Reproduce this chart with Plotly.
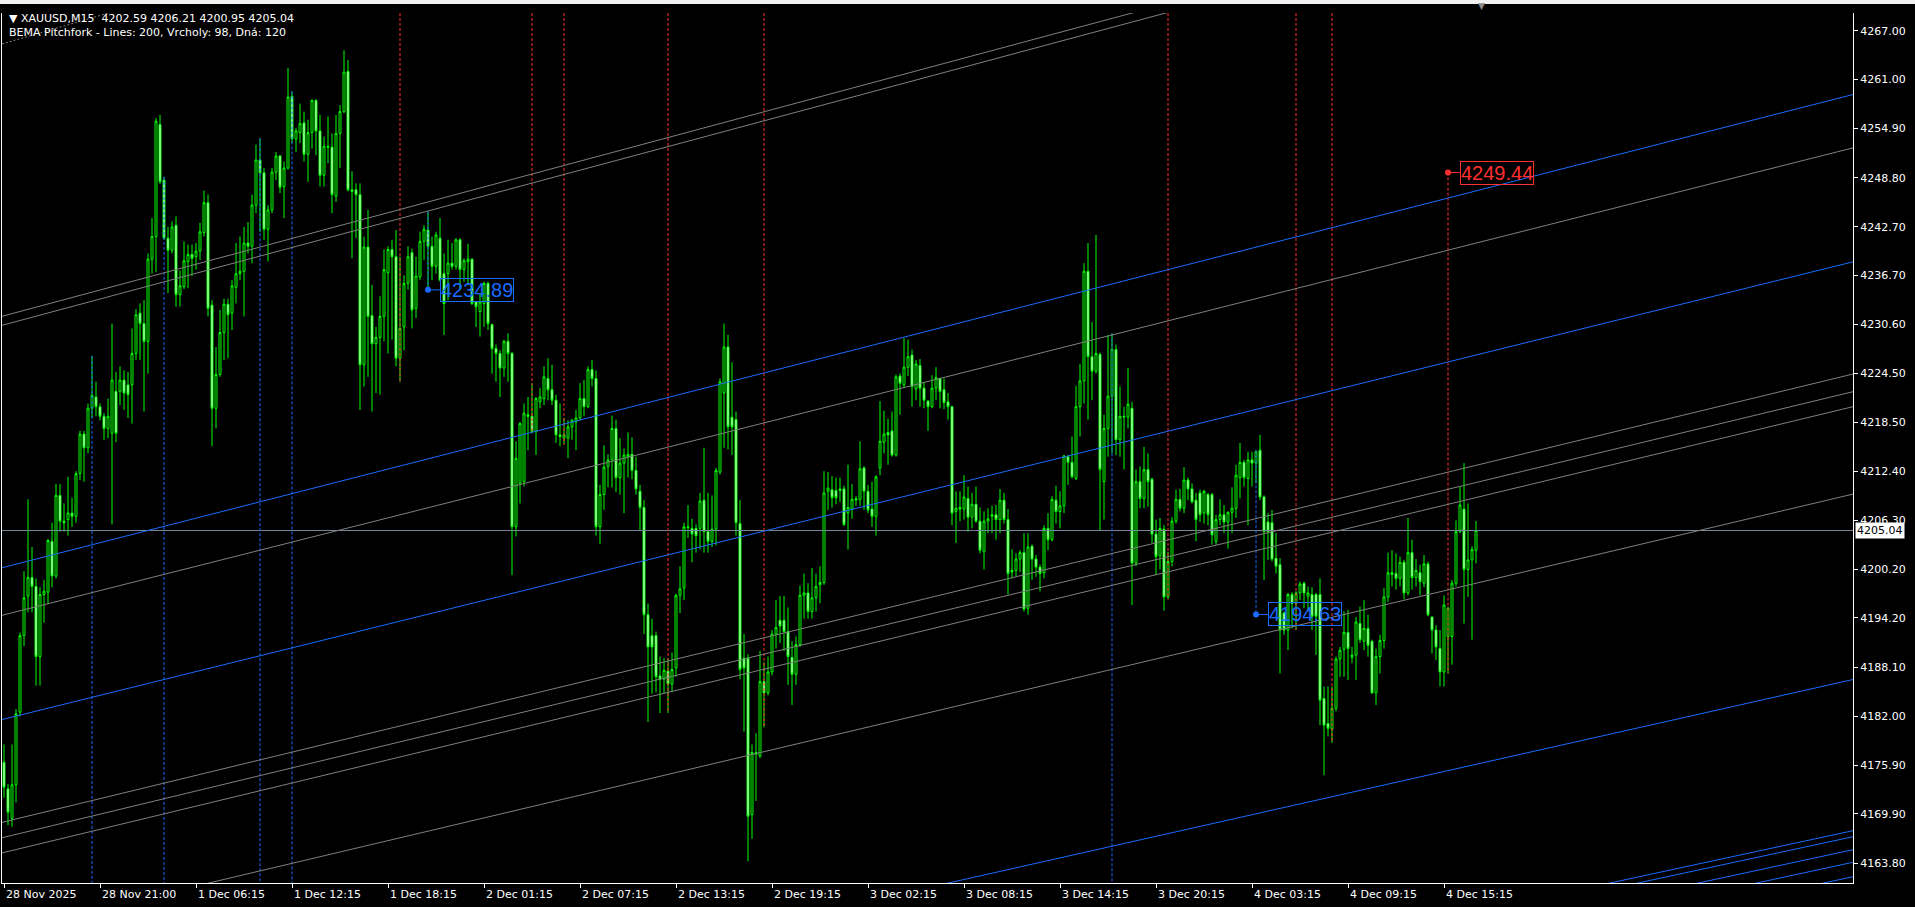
import plotly.graph_objects as go

# ---------------- data ----------------
open_ = [4176.3,4173.0,4169.3,4173.5,4182.5,4192.0,4196.9,4199.2,4198.1,4189.4,
 4197.1,4197.4,4203.7,4199.4,4209.4,4206.2,4206.4,4207.2,4206.8,4212.1,
 4217.0,4215.3,4220.2,4221.6,4220.4,4219.2,4217.7,4217.1,4222.3,4222.3,
 4223.7,4223.1,4223.1,4227.0,4232.0,4230.7,4228.5,4238.7,4241.5,4255.4,
 4248.5,4241.3,4239.8,4242.9,4234.3,4235.3,4238.4,4239.3,4239.0,4239.7,
 4242.0,4245.7,4233.0,4220.2,4224.4,4229.6,4233.1,4232.0,4235.2,4236.9,
 4237.2,4240.7,4240.3,4245.4,4251.0,4249.4,4242.4,4244.8,4249.5,4251.5,
 4247.7,4250.0,4258.9,4253.6,4254.4,4255.6,4251.7,4254.4,4258.4,4254.6,
 4249.1,4252.7,4252.6,4246.5,4254.3,4257.0,4262.0,4247.3,4247.3,4246.7,
 4225.6,4240.2,4231.7,4228.2,4229.0,4231.6,4237.0,4239.9,4239.0,4226.4,
 4230.3,4235.7,4239.5,4232.6,4236.5,4240.9,4242.3,4240.3,4237.8,4241.3,
 4236.9,4236.9,4238.2,4237.8,4241.1,4237.4,4238.4,4238.7,4233.4,4232.2,
 4233.2,4235.7,4230.6,4227.6,4227.0,4225.2,4228.5,4227.0,4205.5,4210.9,
 4211.1,4219.4,4219.2,4217.3,4221.0,4221.4,4223.9,4222.5,4221.2,4216.9,
 4216.5,4216.5,4217.9,4218.5,4219.0,4221.4,4220.4,4225.0,4223.9,4205.5,
 4209.5,4213.0,4213.8,4217.7,4211.6,4213.4,4214.2,4214.5,4212.5,4209.9,
 4207.9,4194.6,4192.0,4192.0,4187.0,4186.6,4187.6,4186.0,4188.0,4197.0,
 4197.9,4205.4,4205.3,4205.3,4205.3,4208.8,4204.9,4203.7,4205.2,4212.3,
 4222.1,4227.8,4219.1,4218.8,4205.9,4189.2,4189.2,4169.8,4177.3,4177.1,
 4186.3,4184.9,4187.5,4192.2,4193.9,4193.9,4192.5,4189.3,4187.2,4190.9,
 4197.0,4197.3,4195.0,4196.7,4198.3,4198.6,4209.9,4210.1,4210.0,4210.0,
 4210.2,4207.2,4207.7,4208.8,4208.9,4212.8,4209.9,4207.7,4206.8,4212.8,
 4216.0,4217.2,4217.4,4214.4,4224.2,4223.1,4225.3,4226.8,4222.6,4225.5,
 4222.7,4221.1,4220.4,4222.7,4223.9,4222.5,4221.0,4220.4,4207.4,4207.9,
 4207.7,4209.0,4206.7,4208.3,4206.2,4202.4,4206.2,4206.8,4207.0,4206.4,
 4208.8,4206.4,4200.1,4200.1,4201.5,4202.3,4195.4,4203.1,4201.5,4200.5,
 4199.8,4205.3,4203.9,4208.8,4207.4,4208.1,4214.2,4213.5,4211.5,4220.4,
 4223.6,4237.2,4226.6,4224.8,4226.9,4211.1,4217.7,4221.7,4227.5,4216.3,
 4219.1,4219.1,4220.2,4201.0,4211.1,4209.0,4212.6,4211.4,4204.6,4201.9,
 4205.2,4196.8,4201.2,4206.2,4208.9,4207.8,4211.3,4210.2,4208.8,4209.7,
 4207.2,4209.5,4209.5,4203.7,4206.4,4207.0,4206.1,4207.3,4207.8,4211.6,
 4213.5,4211.5,4213.8,4213.4,4215.0,4209.2,4206.1,4206.0,4201.6,4200.8,
 4194.8,4192.7,4197.1,4196.0,4197.3,4198.5,4196.9,4197.1,4197.1,4197.1,
 4184.2,4181.1,4180.4,4183.0,4189.1,4190.3,4192.4,4189.3,4189.6,4193.5,
 4191.3,4192.9,4191.3,4184.9,4189.4,4191.4,4196.8,4199.8,4199.7,4199.1,
 4201.1,4197.3,4202.3,4199.2,4199.8,4198.5,4200.9,4194.3,4192.7,4190.4,
 4187.5,4191.9,4191.9,4198.5,4204.9,4207.7,4200.2,4201.4,4202.59]

high = [4178.5,4173.6,4178.5,4182.9,4192.4,4200.0,4208.9,4203.0,4199.1,4198.0,
 4198.9,4204.0,4206.0,4210.8,4210.8,4208.4,4211.7,4209.1,4212.4,4217.4,
 4217.4,4220.8,4226.7,4223.5,4220.8,4219.6,4221.4,4230.7,4224.7,4225.4,
 4224.9,4224.7,4230.1,4232.5,4233.2,4233.6,4239.4,4243.8,4256.2,4256.6,
 4248.9,4242.7,4243.4,4244.0,4237.3,4240.9,4240.5,4240.5,4240.7,4243.2,
 4247.2,4246.7,4233.6,4227.8,4232.4,4233.8,4233.8,4236.1,4240.7,4241.5,
 4242.7,4243.3,4246.7,4252.9,4253.7,4250.0,4245.4,4250.0,4252.0,4251.6,
 4250.8,4262.4,4259.5,4255.0,4258.0,4257.0,4256.0,4258.5,4258.5,4256.6,
 4253.9,4256.4,4254.3,4256.6,4257.8,4264.6,4263.4,4249.6,4248.1,4248.1,
 4241.5,4244.8,4235.5,4230.3,4234.1,4239.9,4240.3,4241.1,4242.3,4239.0,
 4236.7,4240.3,4240.0,4239.0,4242.1,4242.9,4244.6,4241.5,4242.1,4243.8,
 4239.4,4241.1,4240.7,4241.3,4241.3,4238.8,4240.6,4238.8,4233.5,4234.5,
 4235.9,4235.9,4230.7,4228.1,4227.4,4228.7,4229.5,4227.2,4216.1,4218.5,
 4220.8,4221.6,4223.3,4221.6,4222.7,4225.4,4226.4,4225.6,4221.9,4220.8,
 4219.0,4218.7,4218.9,4220.0,4223.3,4223.7,4225.4,4226.2,4224.9,4210.7,
 4215.6,4214.5,4219.3,4218.8,4216.5,4215.2,4217.2,4216.6,4214.2,4210.7,
 4208.8,4196.0,4194.1,4192.5,4189.4,4189.2,4189.2,4189.9,4197.2,4200.6,
 4206.0,4208.2,4206.5,4205.8,4209.7,4215.3,4209.7,4209.4,4212.8,4223.9,
 4230.7,4229.3,4225.9,4219.8,4208.8,4192.2,4189.7,4178.5,4179.9,4190.1,
 4188.7,4189.4,4192.7,4196.4,4196.9,4196.9,4195.5,4191.3,4191.9,4198.2,
 4199.7,4198.5,4200.4,4199.7,4200.6,4212.4,4212.3,4211.8,4211.6,4211.6,
 4210.6,4213.2,4210.8,4209.3,4216.1,4213.0,4210.7,4211.1,4211.9,4221.1,
 4219.9,4218.9,4219.8,4224.4,4224.5,4228.9,4228.7,4227.5,4226.2,4226.3,
 4223.5,4221.2,4224.3,4225.3,4224.0,4223.9,4222.1,4220.5,4209.9,4209.9,
 4211.9,4210.5,4209.7,4210.5,4207.9,4207.4,4207.8,4208.1,4208.2,4210.2,
 4209.7,4207.7,4202.7,4202.2,4202.6,4204.7,4204.7,4203.3,4202.0,4200.8,
 4205.7,4207.2,4209.3,4210.6,4209.9,4214.4,4214.4,4216.7,4223.0,4225.7,
 4238.2,4240.7,4230.9,4241.7,4227.1,4219.4,4229.3,4229.5,4228.1,4222.9,
 4220.4,4225.2,4221.0,4212.6,4213.0,4215.4,4214.6,4211.6,4206.4,4206.6,
 4205.7,4202.4,4206.7,4210.1,4210.2,4212.9,4211.6,4210.9,4209.7,4210.1,
 4210.1,4209.7,4209.7,4207.0,4208.9,4208.2,4207.4,4210.4,4213.2,4215.9,
 4213.8,4214.8,4214.8,4215.0,4216.9,4209.4,4207.2,4207.6,4204.7,4201.6,
 4195.0,4197.3,4197.4,4197.5,4198.7,4198.7,4198.1,4198.0,4197.3,4199.1,
 4185.7,4185.7,4185.7,4189.4,4190.6,4195.0,4195.2,4190.6,4194.3,4195.6,
 4196.4,4194.6,4191.5,4190.4,4192.1,4197.9,4202.3,4202.6,4202.2,4201.8,
 4201.4,4206.6,4203.9,4201.5,4200.8,4202.0,4201.2,4194.4,4193.3,4192.7,
 4197.0,4195.6,4198.9,4206.3,4210.5,4213.4,4208.4,4203.1,4206.21]

low = [4171.9,4168.5,4168.3,4171.3,4182.0,4190.7,4194.9,4194.9,4185.8,4185.8,
 4193.6,4196.0,4198.0,4199.1,4204.9,4204.9,4204.4,4205.5,4206.0,4211.3,
 4211.1,4214.6,4219.0,4219.2,4218.7,4216.3,4216.5,4205.8,4216.0,4220.6,
 4220.0,4219.0,4218.3,4226.2,4226.2,4219.8,4224.5,4236.9,4237.1,4248.0,
 4241.1,4234.5,4239.4,4232.8,4232.8,4235.0,4235.1,4236.6,4237.4,4238.6,
 4241.5,4231.6,4215.5,4217.7,4224.1,4226.2,4226.4,4229.9,4233.2,4236.1,
 4231.6,4239.4,4238.2,4244.4,4242.1,4241.1,4238.4,4244.4,4248.5,4246.9,
 4243.8,4249.8,4253.1,4252.0,4253.1,4250.8,4248.3,4252.4,4251.6,4247.7,
 4247.7,4250.6,4244.4,4245.8,4250.0,4256.8,4247.1,4238.8,4241.3,4220.0,
 4222.9,4224.1,4219.8,4222.1,4221.9,4228.5,4227.0,4228.7,4225.4,4223.5,
 4227.4,4234.9,4230.1,4231.4,4236.1,4238.6,4235.1,4236.1,4236.9,4235.9,
 4229.3,4233.6,4237.4,4237.4,4234.9,4235.9,4235.5,4233.0,4230.3,4229.1,
 4230.3,4229.9,4224.5,4223.5,4221.6,4224.1,4223.5,4199.5,4204.3,4208.4,
 4210.5,4215.0,4217.1,4214.4,4220.2,4220.6,4221.2,4220.6,4215.9,4215.5,
 4215.7,4214.0,4216.3,4215.0,4218.7,4219.2,4220.2,4222.9,4204.4,4203.4,
 4207.6,4210.4,4210.4,4209.8,4209.5,4207.2,4211.6,4211.4,4209.5,4205.1,
 4192.2,4181.3,4184.8,4185.0,4182.4,4184.8,4182.4,4185.0,4186.9,4194.8,
 4196.4,4204.1,4201.1,4202.3,4202.7,4202.3,4202.3,4203.0,4203.2,4212.0,
 4215.3,4215.1,4214.4,4204.4,4186.6,4180.1,4164.0,4166.8,4171.5,4176.8,
 4180.6,4184.6,4187.1,4190.4,4191.1,4190.1,4185.9,4183.4,4185.9,4190.6,
 4194.1,4194.1,4194.1,4195.0,4196.0,4198.3,4207.6,4207.9,4208.3,4208.6,
 4205.6,4202.7,4206.5,4208.1,4208.1,4207.6,4207.2,4205.5,4204.4,4211.9,
 4214.6,4213.2,4214.2,4214.2,4219.4,4222.7,4224.2,4220.4,4221.2,4220.4,
 4220.2,4217.4,4220.2,4221.2,4220.2,4220.1,4218.8,4205.7,4203.5,4206.2,
 4206.4,4204.9,4205.3,4206.0,4202.2,4200.2,4204.7,4204.7,4203.9,4204.7,
 4205.9,4197.1,4199.1,4199.4,4199.9,4195.0,4194.6,4198.9,4199.3,4197.5,
 4199.1,4202.6,4203.7,4205.9,4205.3,4207.2,4210.7,4211.5,4211.3,4216.7,
 4220.8,4218.8,4221.2,4224.5,4205.1,4206.4,4214.2,4214.6,4214.4,4214.2,
 4212.6,4217.7,4195.8,4200.6,4207.8,4207.8,4208.0,4203.5,4199.5,4200.2,
 4195.1,4196.5,4200.6,4205.9,4207.4,4207.2,4208.8,4208.4,4203.7,4206.1,
 4205.9,4205.7,4203.3,4203.3,4205.7,4204.7,4202.8,4204.7,4206.6,4209.0,
 4210.5,4205.7,4210.5,4210.9,4208.8,4198.9,4201.4,4201.2,4199.7,4187.3,
 4192.1,4190.2,4192.9,4192.7,4196.4,4195.4,4195.0,4192.7,4189.6,4180.9,
 4174.7,4179.5,4178.7,4182.6,4186.9,4186.9,4186.5,4188.6,4186.5,4191.1,
 4190.2,4189.4,4184.8,4183.4,4187.3,4190.4,4196.2,4198.1,4197.7,4198.1,
 4196.5,4197.0,4197.7,4198.1,4197.0,4198.0,4194.4,4189.8,4189.0,4185.7,
 4185.7,4187.3,4188.4,4198.1,4204.7,4193.5,4196.8,4191.5,4200.95]

close = [4173.2,4170.1,4173.5,4182.3,4192.0,4196.7,4199.2,4198.1,4189.4,4197.1,
 4197.5,4203.8,4199.4,4209.4,4206.2,4206.0,4207.2,4206.8,4212.1,4217.0,
 4215.3,4220.2,4221.8,4220.4,4219.2,4217.7,4219.2,4223.7,4217.1,4223.7,
 4222.1,4221.9,4227.0,4231.8,4230.7,4228.5,4238.7,4241.5,4255.8,4248.3,
 4241.3,4239.8,4242.7,4234.3,4235.4,4238.5,4239.3,4238.8,4239.7,4242.1,
 4245.7,4232.6,4220.2,4224.4,4229.6,4233.1,4231.8,4235.4,4236.9,4237.2,
 4240.7,4240.3,4245.4,4251.0,4249.4,4242.4,4244.8,4249.5,4251.5,4247.6,
 4250.0,4258.8,4253.6,4254.6,4255.5,4251.7,4254.4,4258.4,4254.6,4249.1,
 4252.7,4252.6,4246.7,4254.3,4257.0,4261.9,4247.3,4247.1,4246.7,4225.6,
 4240.2,4231.6,4228.2,4229.0,4231.6,4237.4,4239.9,4239.0,4226.4,4230.1,
 4235.7,4239.0,4232.4,4236.6,4240.9,4242.4,4240.3,4237.8,4241.7,4236.1,
 4233.2,4238.2,4237.8,4241.1,4237.4,4238.5,4238.7,4233.2,4232.8,4233.4,
 4235.7,4230.7,4227.6,4227.0,4225.2,4228.5,4227.0,4205.5,4214.0,4218.3,
 4219.6,4219.2,4217.3,4221.4,4221.6,4224.1,4222.5,4221.2,4216.9,4216.7,
 4216.9,4217.9,4218.7,4219.0,4221.4,4220.4,4225.0,4223.9,4205.5,4209.5,
 4212.9,4213.8,4217.7,4211.6,4213.4,4214.4,4214.5,4212.5,4210.2,4207.9,
 4194.6,4190.6,4190.6,4186.9,4186.6,4187.7,4186.0,4187.8,4197.0,4197.8,
 4205.5,4205.5,4204.6,4204.4,4208.7,4204.9,4203.7,4205.2,4212.5,4223.5,
 4227.8,4217.9,4217.9,4206.0,4187.8,4188.0,4169.6,4177.5,4177.5,4186.3,
 4184.9,4187.5,4192.2,4193.0,4193.2,4192.5,4189.4,4187.2,4190.9,4197.0,
 4197.3,4195.0,4196.7,4198.1,4198.6,4209.7,4210.3,4209.1,4209.1,4210.2,
 4205.8,4207.9,4208.9,4209.0,4212.7,4209.9,4207.6,4206.8,4211.7,4216.1,
 4217.0,4216.9,4214.4,4224.1,4223.3,4225.3,4226.6,4222.9,4225.7,4222.7,
 4221.2,4220.4,4222.7,4224.0,4222.3,4220.9,4220.4,4207.2,4207.8,4207.7,
 4209.2,4206.7,4208.3,4206.2,4202.6,4206.2,4206.5,4207.0,4206.4,4208.8,
 4206.4,4199.7,4199.9,4201.5,4202.3,4195.3,4203.0,4201.5,4200.5,4199.7,
 4205.3,4203.9,4208.9,4207.4,4208.1,4214.3,4213.5,4211.7,4220.4,4223.6,
 4237.2,4226.6,4224.8,4227.0,4212.6,4217.7,4221.7,4227.5,4216.3,4219.2,
 4219.2,4220.7,4201.0,4211.1,4209.0,4212.6,4211.1,4204.6,4201.8,4205.3,
 4196.8,4201.2,4206.2,4208.9,4207.8,4211.3,4210.2,4208.6,4206.4,4207.0,
 4209.9,4207.0,4204.5,4206.4,4207.0,4206.1,4207.3,4207.8,4211.9,4213.5,
 4211.6,4213.8,4213.4,4214.8,4209.2,4204.9,4204.9,4201.5,4200.6,4192.7,
 4192.7,4197.1,4196.0,4197.3,4198.4,4197.3,4197.3,4194.4,4194.4,4184.0,
 4180.9,4180.5,4183.0,4189.1,4190.2,4192.4,4190.4,4189.6,4193.7,4191.5,
 4192.9,4190.8,4184.9,4189.4,4191.4,4196.8,4199.8,4199.6,4199.1,4201.1,
 4197.3,4202.3,4199.2,4200.1,4198.7,4200.9,4194.6,4192.7,4190.6,4187.5,
 4195.8,4195.4,4198.5,4204.9,4208.2,4200.2,4201.4,4202.7,4205.04]

bars = list(range(len(close)))

tick_bars = [0, 24, 48, 72, 96, 120, 144, 168, 192, 216, 240, 264, 288, 312, 336, 360]
tick_labels = ["28 Nov 2025", "28 Nov 21:00", "1 Dec 06:15", "1 Dec 12:15", "1 Dec 18:15",
               "2 Dec 01:15", "2 Dec 07:15", "2 Dec 13:15", "2 Dec 19:15", "3 Dec 02:15",
               "3 Dec 08:15", "3 Dec 14:15", "3 Dec 20:15", "4 Dec 03:15", "4 Dec 09:15",
               "4 Dec 15:15"]

price_ticks = [4267.00, 4261.00, 4254.90, 4248.80, 4242.70, 4236.70, 4230.60, 4224.50,
               4218.50, 4212.40, 4206.30, 4200.20, 4194.20, 4188.10, 4182.00, 4175.90,
               4169.90, 4163.80]
price_tick_labels = ["%.2f" % v for v in price_ticks]

last_price = 4205.04
header_ohlc = ["4202.59", "4206.21", "4200.95", "4205.04"]

# pitchfork lines: start bar, start price, end bar, end price
gray_b0 = [-0.5, -0.5, -0.5, -0.5, -0.5, -0.5, -0.5]
gray_p0 = [4231.61, 4230.49, 4194.52, 4168.84, 4166.93, 4165.05, 4155.25]
gray_b1 = [462.25, 462.25, 462.25, 462.25, 462.25, 462.25, 462.25]
gray_p1 = [4293.23, 4292.11, 4252.50, 4224.45, 4222.26, 4220.40, 4209.56]

gray_dot_b0 = [-0.5]
gray_dot_p0 = [4265.39]
gray_dot_b1 = [462.25]
gray_dot_p1 = [4331.98]

blue_b0 = [-0.5, -0.5, -0.5, 349, 349, 349, 349, 349]
blue_p0 = [4200.42, 4181.59, 4134.91, 4155.71, 4154.97, 4153.36, 4151.79, 4150.01]
blue_b1 = [462.25, 462.25, 462.25, 462.25, 462.25, 462.25, 462.25, 462.25]
blue_p1 = [4259.12, 4238.37, 4186.56, 4167.81, 4167.06, 4165.45, 4163.89, 4162.10]

# vertical pivot markers
peak_bars = [22, 40, 64, 72, 277]          # blue, from bar high down
trough_bars = [99, 132, 140, 166, 190, 291, 323, 332]   # red, from top down to bar low

label_bars = [106, 313, 361]
label_prices = [4234.89, 4194.63, 4249.44]
label_kind = ["peak", "peak", "trough"]

# ---------------- figure ----------------
Y_MIN, Y_MAX = 4161.32, 4269.23
X_MIN, X_MAX = -0.5, 462.25
BLUE = "#1a6bff"
RED = "#ff3030"
GRAY = "#808080"
LIME = "#00ff00"
FONT = "DejaVu Sans"

fig = go.Figure()

def seg_trace(b0, p0, b1, p1, color, dash="solid"):
    xs, ys = [], []
    for a, b, c, d in zip(b0, p0, b1, p1):
        xs += [a, c, None]
        ys += [b, d, None]
    return go.Scatter(x=xs, y=ys, mode="lines", line=dict(color=color, width=1, dash=dash),
                      hoverinfo="skip", showlegend=False)

# current price line
fig.add_trace(go.Scatter(x=[X_MIN, X_MAX], y=[last_price, last_price], mode="lines",
                         line=dict(color="#778899", width=1), hoverinfo="skip", showlegend=False))

# vertical dotted lines
vx, vy = [], []
for b in peak_bars:
    vx += [b, b, None]; vy += [high[b], Y_MIN, None]
for b, p, k in zip(label_bars, label_prices, label_kind):
    if k == "peak":
        vx += [b, b, None]; vy += [high[b], p, None]
fig.add_trace(go.Scatter(x=vx, y=vy, mode="lines", line=dict(color=BLUE, width=1, dash="3px,2px"),
                         hoverinfo="skip", showlegend=False))
rx, ry = [], []
for b in trough_bars:
    rx += [b, b, None]; ry += [Y_MAX, low[b], None]
for b, p, k in zip(label_bars, label_prices, label_kind):
    if k == "trough":
        rx += [b, b, None]; ry += [p, low[b], None]
fig.add_trace(go.Scatter(x=rx, y=ry, mode="lines", line=dict(color=RED, width=1, dash="3px,2px"),
                         hoverinfo="skip", showlegend=False))

# pitchfork lines
fig.add_trace(seg_trace(gray_b0, gray_p0, gray_b1, gray_p1, GRAY))
fig.add_trace(seg_trace(gray_dot_b0, gray_dot_p0, gray_dot_b1, gray_dot_p1, GRAY, "2px,2px"))
fig.add_trace(seg_trace(blue_b0, blue_p0, blue_b1, blue_p1, BLUE))

# candles
fig.add_trace(go.Candlestick(
    x=bars, open=open_, high=high, low=low, close=close,
    increasing=dict(line=dict(color=LIME, width=1), fillcolor="#000000"),
    decreasing=dict(line=dict(color=LIME, width=1), fillcolor="#ffffff"),
    whiskerwidth=0, hoverinfo="skip", showlegend=False))

# label dots + connectors
for b, p, k in zip(label_bars, label_prices, label_kind):
    col = BLUE if k == "peak" else RED
    fig.add_trace(go.Scatter(x=[b, b + 3], y=[p, p], mode="lines",
                             line=dict(color=col, width=1), hoverinfo="skip", showlegend=False))
    fig.add_trace(go.Scatter(x=[b], y=[p], mode="markers", marker=dict(color=col, size=6),
                             hoverinfo="skip", showlegend=False))
    fig.add_annotation(x=b + 3, y=p, xref="x", yref="y", text="%.2f" % p, showarrow=False,
                       xanchor="left", yanchor="middle",
                       font=dict(family="Liberation Sans Narrow, Liberation Sans, Arial, sans-serif",
                                 size=20, color=col),
                       bordercolor=col, borderwidth=1, borderpad=0)

W, H = 1915, 907
ML, MR, MT, MB = 2, 62, 13, 24
PW, PH = W - ML - MR, H - MT - MB

def px_x(x):
    return (x - ML) / PW

def px_y(y):
    return (H - MB - y) / PH

# x tick labels (left-aligned at tick, MT4 style)
for b, t in zip(tick_bars, tick_labels):
    fig.add_annotation(x=b, y=px_y(894), xref="x", yref="paper", text=t, showarrow=False,
                       xanchor="left", yanchor="middle", xshift=0,
                       font=dict(family=FONT, size=11, color="#ffffff"))

# header
fig.add_annotation(x=px_x(7), y=px_y(18), xref="paper", yref="paper",
                   text="\u25bc\u00a0XAUUSD,M15\u00a0\u00a0" + "\u00a0".join(header_ohlc),
                   showarrow=False, xanchor="left", yanchor="middle",
                   font=dict(family=FONT, size=11, color="#ffffff"))
fig.add_annotation(x=px_x(7), y=px_y(32), xref="paper", yref="paper",
                   text="BEMA Pitchfork - Lines: 200, Vrcholy: 98, Dn\u00e1: 120",
                   showarrow=False, xanchor="left", yanchor="middle",
                   font=dict(family=FONT, size=11, color="#ffffff"))

# current price box
fig.add_annotation(x=px_x(1855), y=last_price, xref="paper", yref="y", text="%.2f" % last_price,
                   showarrow=False, xanchor="left", yanchor="middle", bgcolor="#ffffff",
                   borderpad=1, font=dict(family=FONT, size=11, color="#000000"))

# chart-shift marker
fig.add_annotation(x=px_x(1481), y=px_y(6), xref="paper", yref="paper", text="\u25bc",
                   showarrow=False, xanchor="center", yanchor="middle",
                   font=dict(family=FONT, size=9, color="#8a8a8a"))

# top window strip
fig.add_shape(type="rect", xref="paper", yref="paper", x0=px_x(0), x1=px_x(W), y0=px_y(4), y1=px_y(0),
              fillcolor="#f0f0f0", line=dict(width=0), layer="above")

fig.update_layout(
    width=W, height=H, margin=dict(l=ML, r=MR, t=MT, b=MB),
    paper_bgcolor="#000000", plot_bgcolor="#000000", showlegend=False,
    hovermode=False, dragmode=False,
    xaxis=dict(range=[X_MIN, X_MAX], tickvals=tick_bars, ticktext=tick_labels,
               showticklabels=False, ticks="outside", ticklen=4, tickcolor="#ffffff", tickwidth=1,
               showgrid=False, zeroline=False, showline=True, linecolor="#ffffff", linewidth=1,
               rangeslider=dict(visible=False), fixedrange=True),
    yaxis=dict(range=[Y_MIN, Y_MAX], side="right", tickvals=price_ticks, ticktext=price_tick_labels,
               ticks="outside", ticklen=4, tickcolor="#ffffff", tickwidth=1,
               tickfont=dict(family=FONT, size=11, color="#ffffff"),
               showgrid=False, zeroline=False, showline=True, mirror=True,
               linecolor="#ffffff", linewidth=1, fixedrange=True),
)

fig.write_html("out.html", config={"displayModeBar": False, "staticPlot": True},
               post_script="document.body.style.margin='0';document.body.style.overflow='hidden';"
                           "document.body.style.background='#000';")
